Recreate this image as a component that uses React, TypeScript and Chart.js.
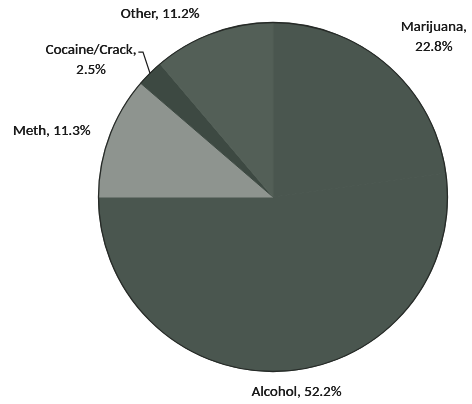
import React, { useEffect, useRef } from "react";
import { Chart, registerables } from "chart.js";

Chart.register(...registerables);

const categories = ["Marijuana", "Alcohol", "Meth", "Cocaine/Crack", "Other"];
const percents = [22.8, 52.2, 11.3, 2.5, 11.2];
const sliceColors = ["#4a564f", "#4a564f", "#8e948f", "#3d4942", "#535f57"];
// label layout: [dx, dy] relative to point just outside the slice middle; split = break after comma
const labelOffsets: [number, number][] = [
  [33, -13],
  [10, 1],
  [-39, 2],
  [-45, 1],
  [-46, 0],
];
const labelSplit = [true, false, false, true, false];
const FONT = "15px Carlito, Lato, 'Open Sans', sans-serif";

const labelPlugin = {
  id: "pieLabels",
  afterDatasetsDraw(chart: any) {
    const meta = chart.getDatasetMeta(0);
    const ctx: CanvasRenderingContext2D = chart.ctx;
    const first = meta.data[0];
    if (!first) return;
    const cx = first.x;
    const cy = first.y;
    const r = first.outerRadius;
    ctx.save();
    ctx.beginPath();
    ctx.arc(cx, cy, r, 0, Math.PI * 2);
    ctx.strokeStyle = "#262a27";
    ctx.lineWidth = 1.3;
    ctx.stroke();
    ctx.font = FONT;
    ctx.fillStyle = "#1a1a1a";
    ctx.textAlign = "center";
    ctx.textBaseline = "middle";
    meta.data.forEach((arc: any, i: number) => {
      const mid = (arc.startAngle + arc.endAngle) / 2;
      const px = cx + (r + 20) * Math.cos(mid);
      const py = cy + (r + 20) * Math.sin(mid);
      const lx = px + labelOffsets[i][0];
      const ly = py + labelOffsets[i][1];
      const text = `${categories[i]}, ${percents[i].toFixed(1)}%`;
      const lines = labelSplit[i]
        ? [`${categories[i]},`, `${percents[i].toFixed(1)}%`]
        : [text];
      const lh = 20;
      const top = ly - ((lines.length - 1) * lh) / 2;
      lines.forEach((ln, k) => {
        ctx.fillText(ln, lx, top + k * lh);
        ctx.fillText(ln, lx + 0.3, top + k * lh);
      });
      if (categories[i] === "Cocaine/Crack") {
        const ex = cx + r * Math.cos(mid);
        const ey = cy + r * Math.sin(mid);
        const w = ctx.measureText(lines[0]).width;
        const endX = lx + w / 2 + 2;
        ctx.beginPath();
        ctx.moveTo(ex, ey);
        ctx.lineTo(ex - 7, top + 2);
        ctx.lineTo(endX, top + 2);
        ctx.strokeStyle = "#1a1a1a";
        ctx.lineWidth = 1.2;
        ctx.stroke();
      }
    });
    ctx.restore();
  },
};

export default function App() {
  const ref = useRef<HTMLCanvasElement>(null);
  useEffect(() => {
    if (!ref.current) return;
    const chart = new Chart(ref.current, {
      type: "pie",
      data: {
        labels: categories,
        datasets: [
          {
            data: percents,
            backgroundColor: sliceColors,
            borderColor: sliceColors,
            borderWidth: 1,
          },
        ],
      },
      options: {
        responsive: false,
        animation: false,
        layout: { padding: { left: 98, right: 24, top: 22, bottom: 32 } },
        plugins: {
          legend: { display: false },
          tooltip: { enabled: false },
        },
      },
      plugins: [labelPlugin],
    });
    return () => chart.destroy();
  }, []);
  return (
    <div style={{ position: "fixed", left: 0, top: 0, width: 472, height: 404, background: "#fff" }}>
      <canvas ref={ref} width={472} height={404} />
    </div>
  );
}
